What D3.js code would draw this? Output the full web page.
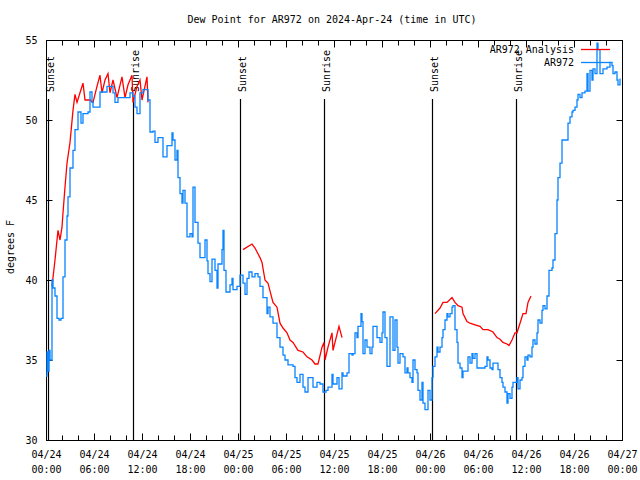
<!DOCTYPE html>
<html><head><meta charset="utf-8">
<script src="https://cdn.jsdelivr.net/npm/d3@7"></script>
<style>
html,body{margin:0;padding:0;background:#fff;}
text{font-family:"DejaVu Sans Mono","Liberation Mono",monospace;font-size:10px;fill:#000;}
</style></head>
<body><svg id="c" width="640" height="480"></svg>
<script>
// ---- data (hours since 2024-04-24 00:00 UTC) ----
const title = "Dew Point for AR972 on 2024-Apr-24 (time in UTC)";
const yLabel = "degrees F";
const seriesNames = ["AR972 Analysis", "AR972"];
const yTicks = [30, 35, 40, 45, 50, 55];

const obsHours = [0,0.125,0.25,0.375,0.5,0.75,0.875,1.125,1.375,1.625,1.875,2.125,2.375,2.625,2.75,3,3.375,3.625,4,4.375,4.625,5.25,5.5,5.75,5.875,6.5,6.75,7.625,8.25,8.375,8.625,9,10.125,10.5,10.875,11.125,11.375,11.75,12.125,12.75,13,13.375,13.625,14,14.25,14.625,15.125,15.75,15.875,16.125,16.375,16.5,16.75,17,17.125,17.375,17.625,18,18.25,18.375,18.625,19,19.25,19.625,19.875,20.125,20.25,20.5,20.75,21.125,21.375,21.5,21.75,22,22.125,22.25,22.5,23,23.25,23.375,23.875,24.25,24.625,24.875,25.125,25.375,25.75,26.125,26.5,26.75,27.125,27.625,27.75,28,28.375,28.875,29.25,29.625,29.875,30.25,30.875,31.125,31.375,31.75,32.125,32.375,32.75,33.25,33.375,33.875,34.25,34.625,35,35.25,35.75,35.875,36.375,36.625,37,37.125,37.625,37.875,38.25,38.375,38.625,38.875,39,39.375,39.5,39.625,39.875,40.125,40.5,40.75,40.875,41.125,41.375,41.75,42,42.125,42.375,42.625,43,43.375,43.625,43.875,44,44.25,44.625,44.875,45.125,45.25,45.5,45.75,45.875,46.125,46.375,46.5,46.75,47,47.125,47.375,47.625,47.75,48,48.25,48.375,48.625,48.875,49,49.25,49.5,49.625,49.875,50.125,50.25,50.5,50.75,50.875,51.125,51.375,51.5,51.75,52,52.125,52.625,52.75,53,53.25,53.375,53.625,53.875,54.5,54.875,55.125,55.25,55.5,55.75,55.875,56.375,56.5,56.75,57,57.125,57.375,57.625,57.75,58,58.25,58.375,58.625,58.875,59,59.25,59.5,59.625,59.875,60.125,60.25,60.5,60.75,60.875,61.125,61.375,61.5,61.75,62,62.125,62.375,62.625,62.875,63.25,63.375,63.625,63.875,64,64.25,64.5,65.125,65.25,65.5,65.75,65.875,66.125,66.375,66.5,66.75,67,67.375,67.625,67.75,68,68.25,68.375,68.625,68.875,69,69.25,69.5,69.625,70.125,70.5,70.75,70.875,71.125,71.375,71.5,71.75];
const obsValues = [34.0,35.5,34.3,35.6,35.0,40.0,39.5,39.0,37.6,37.5,37.6,40.2,42.5,44.0,45.2,47.0,48.1,49.4,50.5,49.8,50.4,50.5,51.75,51.1,50.8,50.8,51.75,52.1,52.1,51.7,51.1,51.4,51.4,51.7,51.5,50.8,50.4,51.7,51.9,51.25,49.25,49.3,48.6,48.9,48.9,47.7,48.4,49.2,48.75,47.5,48.1,46.4,45.4,44.8,45.6,44.8,42.7,42.9,42.7,45.8,43.6,42.3,41.4,41.4,42.5,41.2,40.4,39.9,41.3,40.6,39.5,41.0,41.0,41.9,43.1,40.6,39.25,39.7,40.1,39.4,39.6,40.3,39.8,39.1,40.1,40.5,40.2,40.4,40.2,39.6,38.9,37.9,38.3,37.7,37.3,36.4,35.8,35.3,35.0,34.7,34.6,33.9,33.6,34.1,33.3,33.0,33.9,33.9,33.3,33.6,33.5,33.0,33.1,33.3,34.1,33.5,33.9,33.2,34.2,34.0,34.2,35.4,35.3,35.4,36.7,36.4,37.1,37.9,37.4,35.4,36.25,35.8,35.4,35.8,37.1,37.1,36.4,36.1,36.7,38.0,36.4,34.6,37.7,35.6,37.5,35.8,34.8,35.4,35.2,34.2,34.5,34.2,33.9,33.6,35.0,34.4,34.2,33.1,32.5,33.6,32.3,31.9,31.9,33.1,32.5,33.9,34.6,35.2,35.8,35.5,35.8,36.4,36.9,37.5,37.9,37.7,37.9,38.3,38.4,36.9,36.1,34.8,34.5,33.9,34.3,34.3,35.2,34.8,35.4,35.1,35.4,34.5,34.5,34.6,35.2,35.0,34.5,34.4,34.8,34.8,34.4,33.9,33.6,33.3,33.0,32.3,32.9,32.6,33.3,33.6,33.6,33.9,33.2,33.75,33.9,34.6,35.2,35.0,35.3,35.2,35.8,36.25,36.0,36.7,37.5,37.3,38.1,38.4,38.2,39.0,40.6,40.75,41.25,42.9,45.0,46.4,47.3,48.75,48.75,49.8,50.2,50.5,50.6,50.8,51.25,51.6,51.4,51.7,51.8,52.9,51.8,53.1,52.5,53.2,52.9,54.8,54.4,52.9,52.9,53.2,53.3,53.6,53.4,52.9,53.0,52.5,52.2,52.6];

// analysis series: three runs, separated by null
const anaHours = [0.75,1.125,1.5,1.75,2,2.125,2.375,2.625,3,3.375,3.625,3.875,4.25,4.625,4.875,5.5,5.875,6.375,6.75,7,7.375,7.75,8,8.375,8.875,9.5,9.875,10.25,10.75,10.875,11.375,11.75,12,12.625,12.75,
  12.8,
  24.625,25.75,26.125,26.75,27,27.375,27.75,28.375,28.875,29.25,29.625,30.125,30.5,30.875,31.5,32.125,32.625,33.25,33.625,34,34.5,34.75,34.875,35.25,35.75,35.875,36.375,36.625,37,
  37.1,
  48.625,49.25,49.625,50.125,50.75,51.125,51.5,52,52.125,52.625,53,53.625,54.25,54.625,55.25,55.875,56.375,56.75,57.125,57.625,57.875,58.25,58.625,58.875,59.25,59.625,60,60.25,60.625];
const anaValues = [39.6,41.25,43.1,42.5,43.3,44.2,45.8,47.3,48.6,50.6,51.6,51.1,51.7,52.3,51.25,51.25,51.1,52.1,52.8,51.7,52.5,52.9,51.7,52.5,51.4,52.7,51.4,52.2,52.8,51.1,52.1,52.5,51.25,52.7,51.1,
  null,
  41.9,42.25,42.0,41.4,41.1,40.0,39.8,38.6,38.3,37.3,37.0,36.7,36.25,36.1,35.6,35.5,35.2,35.0,34.75,34.75,35.8,36.1,35.0,35.8,36.7,35.6,36.6,37.1,36.4,
  null,
  37.9,38.25,38.6,38.6,38.9,38.6,38.4,38.3,37.9,37.4,37.3,37.2,37.1,36.9,36.9,36.75,36.4,36.3,36.1,36.0,35.9,36.25,36.7,36.7,37.3,37.9,37.9,38.6,39.0];

const sunEvents = ["Sunset","Sunrise","Sunset","Sunrise","Sunset","Sunrise"];
const sunHours = [0.25,10.9,24.25,34.75,48.25,58.75];

// ---- drawing ----
const svg = d3.select("#c");
const t0 = Date.UTC(2024,3,24,0,0);
const toDate = h => new Date(t0 + h*3600e3);
const x = d3.scaleUtc().domain([toDate(0), toDate(72)]).range([46, 622]);
const y = d3.scaleLinear().domain([30, 55]).range([440, 40]);
const colors = ["#ff0000", "#0a84ff"];

// title
svg.append("text").attr("x", 332).attr("y", 23).attr("text-anchor","middle").text(title);
// y label
svg.append("text").attr("transform","translate(14,247) rotate(-90)").attr("text-anchor","middle").text(yLabel);

// sun lines
sunHours.forEach((h,i)=>{
  const xx = Math.round(x(toDate(h)))+0.5;
  svg.append("line").attr("x1",xx).attr("x2",xx).attr("y1",99).attr("y2",440)
    .attr("stroke","#000").attr("stroke-width",1.2);
  svg.append("text").attr("transform",`translate(${xx+5},92) rotate(-90)`)
    .attr("text-anchor","start").text(sunEvents[i]);
});

// axes
const fmtD = d3.utcFormat("%m/%d"), fmtT = d3.utcFormat("%H:%M");
const major = d3.range(0, 73, 6).map(toDate);
const minor = d3.range(0, 73, 2).map(toDate);
const gB = svg.append("g").attr("transform","translate(0,440.5)")
  .call(d3.axisBottom(x).tickValues(minor).tickSizeInner(-5).tickSizeOuter(0).tickFormat(""));
const gBl = svg.append("g").attr("transform","translate(0,440.5)")
  .call(d3.axisBottom(x).tickValues(major).tickSizeInner(-7).tickSizeOuter(0).tickPadding(10).tickFormat(""));
gBl.selectAll(".tick").append("text").attr("y",17).attr("text-anchor","middle")
  .each(function(d){
    const s = d3.select(this);
    s.append("tspan").attr("x",0).attr("dy",0).text(fmtD(d));
    s.append("tspan").attr("x",0).attr("dy",15).text(fmtT(d));
  });
const gT = svg.append("g").attr("transform","translate(0,40.5)")
  .call(d3.axisTop(x).tickValues(minor).tickSizeInner(-5).tickSizeOuter(0).tickFormat(""));
svg.append("g").attr("transform","translate(0,40.5)")
  .call(d3.axisTop(x).tickValues(major).tickSizeInner(-7).tickSizeOuter(0).tickFormat(""));
const gL = svg.append("g").attr("transform","translate(46.5,0)")
  .call(d3.axisLeft(y).tickValues(yTicks).tickSizeInner(-6).tickSizeOuter(0).tickPadding(9).tickFormat(d3.format("d")));
const gR = svg.append("g").attr("transform","translate(622.5,0)")
  .call(d3.axisRight(y).tickValues(yTicks).tickSizeInner(-6).tickSizeOuter(0).tickFormat(""));
svg.selectAll(".domain").remove();
svg.selectAll(".tick line").attr("stroke","#000");
svg.selectAll(".tick text").attr("font-family",null).attr("font-size",null).style("fill","#000");
gL.selectAll(".tick text").attr("dy","0.35em");

// frame
svg.append("rect").attr("x",46.5).attr("y",40.5).attr("width",576).attr("height",400)
  .attr("fill","none").attr("stroke","#000").attr("stroke-width",1);

// series
const obs = obsHours.map((h,i)=>({t:toDate(h), v:obsValues[i]}));
const ana = anaHours.map((h,i)=>({t:toDate(h), v:anaValues[i]}));
svg.append("path").datum(ana)
  .attr("d", d3.line().defined(d=>d.v!=null).x(d=>x(d.t)).y(d=>y(d.v)))
  .attr("fill","none").attr("stroke",colors[0]).attr("stroke-width",1.3);
svg.append("path").datum(obs)
  .attr("d", d3.line().curve(d3.curveStepAfter).x(d=>x(d.t)).y(d=>y(d.v)))
  .attr("fill","none").attr("stroke",colors[1]).attr("stroke-width",1.3);

// legend
seriesNames.forEach((n,i)=>{
  const ly = 49.5 + i*13;
  svg.append("text").attr("x",574).attr("y",ly).attr("dy","0.35em").attr("text-anchor","end").text(n);
  svg.append("line").attr("x1",581).attr("x2",610).attr("y1",ly).attr("y2",ly)
    .attr("stroke",colors[i]).attr("stroke-width",1.3);
});
</script>
</body></html>
